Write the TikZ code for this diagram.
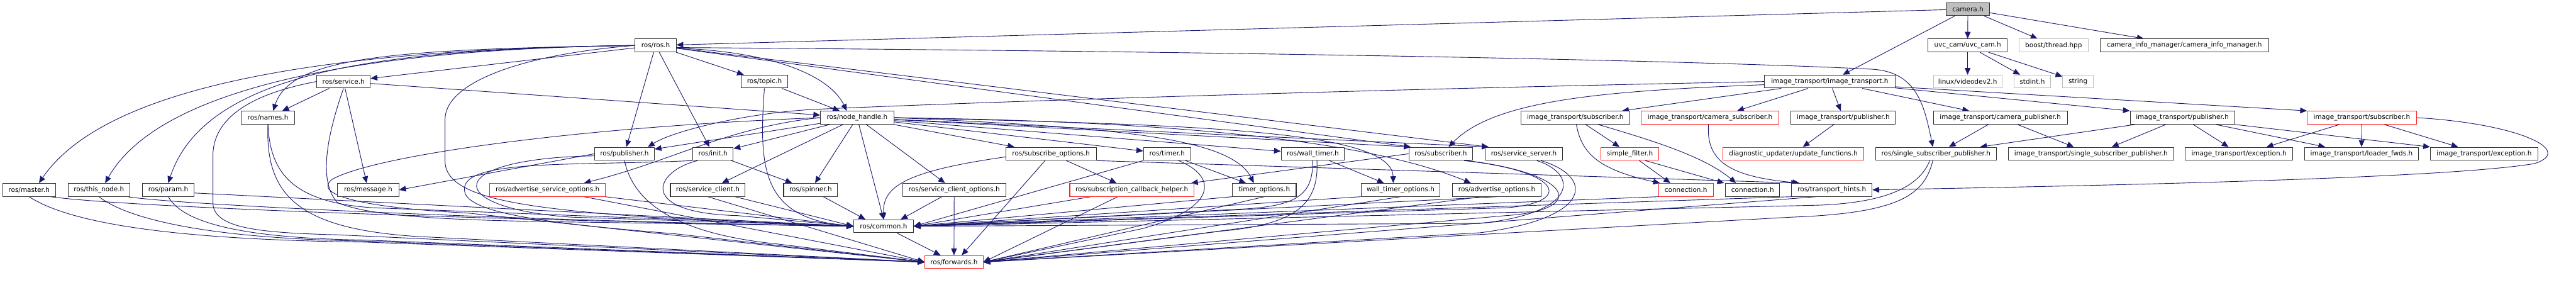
\documentclass[tikz,border=0pt]{standalone}
\usepackage{fontspec}
\newfontfamily\djv{DejaVu Sans}
\usetikzlibrary{arrows.meta}
\definecolor{edgec}{HTML}{191970}
\definecolor{grayb}{HTML}{BFBFBF}
\definecolor{redb}{HTML}{FF2020}
\definecolor{boxb}{HTML}{303030}
\pgfdeclarelayer{back}
\pgfdeclarelayer{bg}
\pgfsetlayers{back,bg,main}
\begin{document}
\begin{tikzpicture}[x=1pt,y=-1pt,
  box/.style={draw=boxb, line width=1.3pt, fill=white, minimum height=25pt, inner sep=0pt, font=\djv\fontsize{12.7}{15}\selectfont},
  redbox/.style={box, draw=redb},
  graybox/.style={box, draw=grayb},
  rootbox/.style={box, fill=grayb},
  e/.style={draw=edgec, line width=1.1pt, -{Triangle[length=13pt,width=11pt]}}]
\begin{pgfonlayer}{back}
\path[use as bounding box, fill=white] (0,0) rectangle (4911,581);
\end{pgfonlayer}
% row 0-2
\node[rootbox, minimum width=83pt] (camera) at (3789.5,17.5) {camera.h};
\node[box, minimum width=79pt] (ros) at (1262.5,87.5) {ros/ros.h};
\node[box, minimum width=152pt] (uvc) at (3789,87.5) {uvc\_cam/uvc\_cam.h};
\node[graybox, minimum width=133pt] (boost) at (3954.5,87.5) {boost/thread.hpp};
\node[box, minimum width=325pt] (cim) at (4206.5,87.5) {camera\_info\_manager/camera\_info\_manager.h};
\node[box, minimum width=103pt] (service) at (661.5,157) {ros/service.h};
\node[box, minimum width=90pt] (topic) at (1472,157) {ros/topic.h};
\node[box, minimum width=251pt] (itit) at (3523.5,157) {image\_transport/image\_transport.h};
\node[graybox, minimum width=132pt] (v4l) at (3789,157) {linux/videodev2.h};
\node[graybox, minimum width=71pt] (stdint) at (3913.5,157) {stdint.h};
\node[graybox, minimum width=59pt] (string) at (4001.5,157) {string};
% row 3
\node[box, minimum width=102pt] (names) at (516,226.5) {ros/names.h};
\node[box, minimum width=141pt] (nh) at (1650.5,226.5) {ros/node\_handle.h};
\node[box, minimum width=209pt] (itsub) at (3033.5,226.5) {image\_transport/subscriber.h};
\node[redbox, minimum width=266pt] (itcamsub) at (3293,226.5) {image\_transport/camera\_subscriber.h};
\node[box, minimum width=201pt] (itpubA) at (3549.5,226.5) {image\_transport/publisher.h};
\node[box, minimum width=258pt] (itcampub) at (3852,226.5) {image\_transport/camera\_publisher.h};
\node[box, minimum width=201pt] (itpubB) at (4202.5,226.5) {image\_transport/publisher.h};
\node[redbox, minimum width=210pt] (itsubR) at (4548,226.5) {image\_transport/subscriber.h};
% row 4
\node[box, minimum width=115pt] (pub) at (1202.5,296) {ros/publisher.h};
\node[box, minimum width=78pt] (init) at (1373,296) {ros/init.h};
\node[box, minimum width=174pt] (subopt) at (2024,296) {ros/subscribe\_options.h};
\node[box, minimum width=91pt] (timer) at (2247.5,296) {ros/timer.h};
\node[box, minimum width=122pt] (wtimer) at (2528,296) {ros/wall\_timer.h};
\node[box, minimum width=123pt] (sub) at (2774.5,296) {ros/subscriber.h};
\node[box, minimum width=149pt] (srvsrv) at (2934.5,296) {ros/service\_server.h};
\node[redbox, minimum width=111pt] (sfilter) at (3138.5,296) {simple\_filter.h};
\node[redbox, minimum width=271pt] (diag) at (3453.5,296) {diagnostic\_updater/update\_functions.h};
\node[box, minimum width=232pt] (ssp) at (3728,296) {ros/single\_subscriber\_publisher.h};
\node[box, minimum width=319pt] (itssp) at (4026.5,296) {image\_transport/single\_subscriber\_publisher.h};
\node[box, minimum width=207pt] (itexcA) at (4311.5,296) {image\_transport/exception.h};
\node[box, minimum width=219pt] (itloader) at (4547.5,296) {image\_transport/loader\_fwds.h};
\node[box, minimum width=207pt] (itexcB) at (4783.5,296) {image\_transport/exception.h};
% row 5
\node[box, minimum width=102pt] (master) at (56,365.5) {ros/master.h};
\node[box, minimum width=119pt] (thisnode) at (190.5,365.5) {ros/this\_node.h};
\node[box, minimum width=100pt] (param) at (324,365.5) {ros/param.h};
\node[box, minimum width=118pt] (message) at (709,365.5) {ros/message.h};
\node[redbox, minimum width=223pt] (aso) at (1054.5,365.5) {ros/advertise\_service\_options.h};
\node[box, minimum width=144pt] (sclient) at (1363,365.5) {ros/service\_client.h};
\node[box, minimum width=104pt] (spinner) at (1561,365.5) {ros/spinner.h};
\node[box, minimum width=199pt] (sco) at (1837.5,365.5) {ros/service\_client\_options.h};
\node[redbox, minimum width=239pt] (sch) at (2179.5,365.5) {ros/subscription\_callback\_helper.h};
\node[box, minimum width=123pt] (topt) at (2434.5,365.5) {timer\_options.h};
\node[box, minimum width=152pt] (wtopt) at (2697,365.5) {wall\_timer\_options.h};
\node[box, minimum width=171pt] (advopt) at (2882.5,365.5) {ros/advertise\_options.h};
\node[redbox, minimum width=105pt] (connR) at (3246.5,365.5) {connection.h};
\node[box, minimum width=104pt] (connB) at (3375,365.5) {connection.h};
\node[box, minimum width=155pt] (th) at (3527.5,365.5) {ros/transport\_hints.h};
% rows 6-7
\node[box, minimum width=115pt] (common) at (1701.5,435.5) {ros/common.h};
\node[redbox, minimum width=112pt] (fwd) at (1837,504.5) {ros/forwards.h};

\begin{pgfonlayer}{bg}
% camera
\draw[e] (camera) -- (ros);
\draw[e] (camera) -- (uvc);
\draw[e] (camera) -- (boost);
\draw[e] (camera) -- (cim);
\draw[e] (camera) -- (itit);
% uvc
\draw[e] (uvc) -- (v4l);
\draw[e] (uvc) -- (stdint);
\draw[e] (uvc) -- (string);
% ros
\draw[e] (ros) -- (service);
\draw[e] (ros.west) .. controls (750,95) and (560,110) .. ([xshift=10pt]names.north);
\draw[e] (ros.west) .. controls (600,95) and (200,170) .. ([xshift=19pt]master.north);
\draw[e] (ros.west) .. controls (650,95) and (300,180) .. ([xshift=12pt]thisnode.north);
\draw[e] (ros.west) .. controls (800,95) and (400,120) .. (param.north);
\draw[e] (ros) -- (topic);
\draw[e] (ros) -- (pub);
\draw[e] (ros) -- (init);
\draw[e] ([yshift=-5pt]ros.east) .. controls (1500,100) and (1600,150) .. ([xshift=-20pt]nh.north);
\draw[e] ([yshift=-4pt]ros.east) .. controls (2500,100) and (3300,118) .. (3600,133) .. controls (3690,136) and (3705,200) .. ([xshift=-6pt]ssp.north);
\draw[e] (ros) -- ([xshift=-68pt]srvsrv.north);
\draw[e] (ros) -- ([xshift=-58pt]sub.north);
\draw[e] (ros.west) .. controls (1000,105) and (857,160) .. (857,230) -- (857,310) .. controls (857,380) and (1000,400) .. (1250,418) -- (common.west);
% service
\draw[e] (service) -- (names);
\draw[e] (service) -- (message);
\draw[e] (service) -- (nh);
\draw[e] (service.south) .. controls (630,260) and (612,350) .. (650,390) .. controls (720,420) and (900,425) .. (1150,428) -- (common.west);
\draw[e] (service.west) .. controls (460,185) and (410,240) .. (410,300) -- (410,390) .. controls (410,440) and (500,448) .. (650,452) -- (fwd.west);
% topic
\draw[e] (topic) -- (nh);
\draw[e] (topic.south) .. controls (1460,330) and (1470,420) .. (common.west);
% names
\draw[e] (names.south) .. controls (520,330) and (560,390) .. (720,400) -- (common.west);
\draw[e] (names.south) .. controls (510,380) and (580,440) .. (800,455) -- (fwd.west);
% master, this_node, param
\draw[e] ([xshift=-10pt]master.south east) .. controls (250,400) and (1000,425) .. (common.west);
\draw[e] ([xshift=-5pt]thisnode.south east) .. controls (350,395) and (1000,425) .. (common.west);
\draw[e] ([yshift=-6pt]param.east) -- (common.west);
\draw[e] (master.south) .. controls (150,440) and (400,462) .. (700,466) -- (fwd.west);
\draw[e] (thisnode.south) .. controls (260,432) and (450,460) .. (700,464) -- (fwd.west);
\draw[e] (param.south) .. controls (350,425) and (450,458) .. (700,462) -- (fwd.west);
% publisher
\draw[e] (pub.west) -- (message.east);
\draw[e] ([yshift=-4pt]pub.west) .. controls (850,305) and (850,400) .. (1100,418) -- (common.west);
\draw[e] (pub.south) .. controls (1220,390) and (1300,450) .. (1500,470) -- (fwd.west);
% init
\draw[e] (init) -- (spinner);
\draw[e] ([xshift=-30pt]init.south) .. controls (1260,330) and (1225,410) .. (1420,415) -- (common.west);
\draw[e] (init.south west) .. controls (1100,320) and (880,305) .. (895,370) .. controls (905,410) and (1050,430) .. (1300,450) -- (fwd.west);
% advertise_service_options
\draw[e] (aso) -- (common.west);
\draw[e] ([xshift=70pt]aso.south) -- (fwd.west);
% service_client
\draw[e] (sclient) -- (common.west);
\draw[e] (sclient.south) -- (fwd.west);
% spinner
\draw[e] (spinner) -- ([xshift=-35pt]common.north);
% node_handle
\draw[e] (nh) -- (pub);
\draw[e] (nh) -- (init);
\draw[e] (nh.west) .. controls (1400,245) and (1295,310) .. ([xshift=70pt]aso.north);
\draw[e] (nh) -- (sclient);
\draw[e] (nh) -- (spinner);
\draw[e] (nh) -- (common.north);
\draw[e] (nh) -- (sco);
\draw[e] (nh) -- (subopt);
\draw[e] (nh) -- (timer);
\draw[e] (nh.east) .. controls (2150,245) and (2370,265) .. ([xshift=-20pt]topt.north);
\draw[e] (nh) -- (wtimer);
\draw[e] (nh.east) .. controls (2300,240) and (2680,250) .. ([xshift=-14pt]wtopt.north);
\draw[e] (nh) -- ([xshift=-58pt]sub.north);
\draw[e] (nh.east) .. controls (2400,235) and (2680,290) .. ([xshift=-50pt]advopt.north);
\draw[e] (nh) -- ([xshift=-68pt]srvsrv.north);
\draw[e] (nh.west) .. controls (1100,245) and (720,300) .. (640,345) .. controls (600,375) and (700,400) .. (900,410) -- (fwd.west);
% subscribe_options
\draw[e] (subopt) -- (sch);
\draw[e] (subopt.south east) -- ([xshift=-65pt]th.north);
\draw[e] ([yshift=-6pt]subopt.west) .. controls (1740,330) and (1700,360) .. (common.north);
\draw[e] (subopt) -- ([xshift=15pt]fwd.north);
% service_client_options
\draw[e] (sco) -- ([xshift=33pt]common.north);
\draw[e] (sco) -- (fwd);
% timer
\draw[e] (timer) -- (topt);
\draw[e] (timer.south west) -- (common.east);
\draw[e] ([xshift=22pt]timer.south) .. controls (2345,340) and (2345,400) .. (2200,440) -- (fwd.east);
% subscription_callback_helper
\draw[e] (sch) -- (common.east);
\draw[e] (sch) -- (fwd.east);
% timer_options
\draw[e] (topt.south west) -- (common.east);
\draw[e] (topt.south) -- (fwd.east);
% wall_timer
\draw[e] (wtimer) -- (wtopt);
\draw[e] (wtimer.south) .. controls (2528,370) and (2505,395) .. (2400,402) -- (common.east);
\draw[e] ([xshift=8pt]wtimer.south) .. controls (2540,390) and (2500,432) .. (2350,445) -- (fwd.east);
% wall_timer_options
\draw[e] (wtopt.south west) -- (common.east);
\draw[e] (wtopt.south) -- (fwd.east);
% subscriber
\draw[e] (sub.west) -- ([xshift=-6pt]sch.north east);
\draw[e] ([xshift=45pt]sub.south) .. controls (3010,330) and (3030,390) .. (2900,400) -- (common.east);
\draw[e] ([xshift=50pt]sub.south) .. controls (3035,335) and (3055,405) .. (2900,415) -- (fwd.east);
% service_server
\draw[e] ([xshift=25pt]srvsrv.south) .. controls (3040,335) and (3040,410) .. (2850,430) -- (common.east);
\draw[e] ([xshift=33pt]srvsrv.south) .. controls (3070,340) and (3070,420) .. (2850,448) -- (fwd.east);
% advertise_options
\draw[e] (advopt.south) -- (common.east);
\draw[e] ([xshift=-30pt]advopt.south) -- (fwd.east);
% single_subscriber_publisher
\draw[e] ([xshift=-12pt]ssp.south) .. controls (3700,350) and (3650,390) .. (3500,395) -- (common.east);
\draw[e] ([xshift=-6pt]ssp.south) .. controls (3705,375) and (3660,410) .. (3450,418) -- (fwd.east);
% transport_hints
\draw[e] (th.south west) -- (common.east);
\draw[e] ([xshift=-30pt]th.south) -- (fwd.east);
% connection (red)
\draw[e] (connR.south west) -- (common.east);
% common
\draw[e] (common) -- (fwd);
% image_transport.h
\draw[e] (itit.west) .. controls (2500,175) and (1800,200) .. (1580,210) .. controls (1450,215) and (1300,250) .. ([xshift=45pt]pub.north);
\draw[e] ([yshift=-6pt]itit.west) .. controls (3100,175) and (2880,190) .. ([xshift=15pt]sub.north);
\draw[e] (itit) -- ([xshift=90pt]itsub.north);
\draw[e] (itit) -- ([xshift=52pt]itcamsub.north);
\draw[e] (itit) -- (itpubA);
\draw[e] (itit) -- ([xshift=-60pt]itcampub.north);
\draw[e] (itit) -- (itpubB.north west);
\draw[e] ([yshift=-10pt]itit.east) -- (itsubR.north west);
% image_transport/subscriber.h
\draw[e] (itsub) -- (sfilter);
\draw[e] ([xshift=2pt]itsub.south) .. controls (3045,290) and (3070,325) .. ([xshift=-50pt]connR.north);
\draw[e] ([xshift=44pt]itsub.south) .. controls (3180,270) and (3280,300) .. ([xshift=-32pt]connB.north);
% simple_filter
\draw[e] (sfilter) -- ([xshift=-30pt]connR.north);
\draw[e] ([xshift=30pt]sfilter.south) -- ([xshift=-55pt]connB.north);
% camera_subscriber
\draw[e] ([xshift=-3pt]itcamsub.south) .. controls (3285,310) and (3330,340) .. ([xshift=-62pt]th.north);
% publisher A
\draw[e] (itpubA) -- (diag);
% camera_publisher
\draw[e] (itcampub) -- ([xshift=25pt]ssp.north);
\draw[e] (itcampub) -- (itssp);
% publisher B
\draw[e] (itpubB) -- ([xshift=85pt]ssp.north);
\draw[e] (itpubB) -- ([xshift=40pt]itssp.north);
\draw[e] (itpubB) -- ([xshift=-20pt]itexcA.north);
\draw[e] (itpubB) -- ([xshift=-70pt]itloader.north);
\draw[e] (itpubB.south east) -- (itexcB.north west);
% subscriber (red)
\draw[e] (itsubR) -- ([xshift=53pt]itexcA.north);
\draw[e] (itsubR) -- (itloader);
\draw[e] (itsubR) -- ([xshift=-50pt]itexcB.north);
\draw[e] (itsubR.east) .. controls (4850,238) and (4960,290) .. (4880,315) .. controls (4700,345) and (4000,358) .. (th.east);
\end{pgfonlayer}
\end{tikzpicture}
\end{document}
